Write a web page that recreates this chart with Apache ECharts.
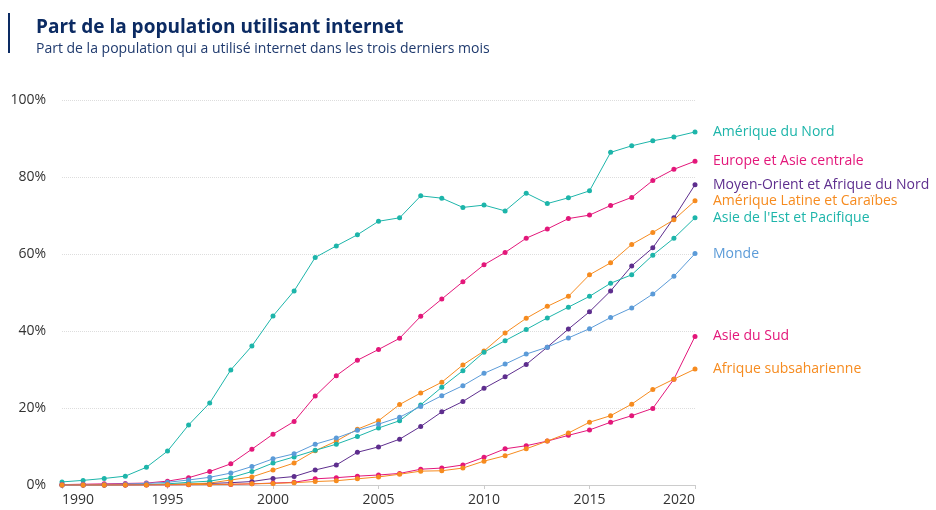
<!DOCTYPE html>
<html>
<head>
<meta charset="utf-8">
<script src="https://cdn.jsdelivr.net/npm/echarts@6/dist/echarts.min.js"></script>
<style>
  html, body { margin: 0; padding: 0; background: #fff; }
  #chart { width: 936px; height: 510px; }
</style>
</head>
<body>
<div id="chart"></div>
<script>
// années 1990 -> 2020
var annees = [1990, 1991, 1992, 1993, 1994, 1995, 1996, 1997, 1998, 1999,
  2000, 2001, 2002, 2003, 2004, 2005, 2006, 2007, 2008, 2009,
  2010, 2011, 2012, 2013, 2014, 2015, 2016, 2017, 2018, 2019, 2020]

// part de la population (%)
var ameriqueNord = [0.8, 1.2, 1.7, 2.3, 4.6, 8.8, 15.6, 21.3, 29.9, 36.1, 43.9, 50.4, 59.1, 62.1, 65.0, 68.5, 69.4, 75.1, 74.5, 72.1, 72.7, 71.2, 75.8, 73.1, 74.6, 76.4, 86.4, 88.1, 89.4, 90.4, 91.7]
var europeAsieC = [0.1, 0.2, 0.3, 0.4, 0.5, 1.0, 1.9, 3.5, 5.5, 9.3, 13.2, 16.5, 23.1, 28.4, 32.4, 35.2, 38.1, 43.8, 48.3, 52.8, 57.2, 60.4, 64.1, 66.5, 69.2, 70.1, 72.6, 74.7, 79.1, 82.0, 84.1]
var moyenOrient = [0, 0, 0, 0, 0.05, 0.1, 0.2, 0.4, 0.6, 0.9, 1.7, 2.2, 3.9, 5.2, 8.5, 9.9, 11.9, 15.2, 19.0, 21.7, 25.1, 28.1, 31.3, 35.8, 40.5, 45.0, 50.4, 56.9, 61.6, 69.4, 78.0]
var ameriqueLatine = [0, 0, 0, 0.05, 0.1, 0.2, 0.3, 0.5, 1.3, 2.1, 3.9, 5.7, 8.9, 11.4, 14.5, 16.7, 20.9, 23.9, 26.7, 31.2, 34.8, 39.5, 43.3, 46.4, 49.0, 54.6, 57.7, 62.5, 65.6, 68.9, 73.8]
var asieEst = [0, 0, 0, 0.05, 0.1, 0.3, 0.7, 1.0, 1.9, 3.5, 5.7, 7.3, 9.0, 10.6, 12.6, 14.8, 16.7, 20.8, 25.4, 29.7, 34.5, 37.5, 40.4, 43.4, 46.2, 49.0, 52.4, 54.6, 59.7, 64.1, 69.4]
var monde = [0.05, 0.1, 0.15, 0.25, 0.4, 0.7, 1.3, 2.0, 3.1, 4.8, 6.8, 8.1, 10.6, 12.2, 14.2, 15.8, 17.6, 20.4, 23.2, 25.8, 29.0, 31.4, 34.0, 35.8, 38.2, 40.6, 43.5, 46.0, 49.6, 54.2, 60.1]
var asieSud = [0, 0, 0, 0, 0, 0, 0.05, 0.1, 0.15, 0.3, 0.5, 0.7, 1.6, 1.9, 2.3, 2.6, 3.0, 4.1, 4.4, 5.2, 7.2, 9.4, 10.2, 11.4, 12.9, 14.3, 16.3, 18.0, 19.9, 27.5, 38.6]
var afriqueSub = [0, 0, 0, 0, 0, 0.05, 0.1, 0.15, 0.2, 0.3, 0.4, 0.6, 0.9, 1.1, 1.6, 2.1, 2.8, 3.6, 3.7, 4.4, 6.2, 7.6, 9.4, 11.4, 13.5, 16.3, 18.0, 21.0, 24.8, 27.5, 30.1]

var police = 'Open Sans'

function serie (nom, valeurs, couleur) {
  return {
    name: nom,
    type: 'line',
    data: annees.map(function (a, i) { return [a, valeurs[i]] }),
    symbol: 'circle',
    symbolSize: 5,
    showSymbol: true,
    lineStyle: { width: 1, color: couleur },
    itemStyle: { color: couleur },
    emphasis: { disabled: true },
    endLabel: {
      show: true,
      formatter: '{a}',
      distance: 18,
      color: couleur,
      fontFamily: police,
      fontSize: 14
    }
  }
}

var chart = echarts.init(document.getElementById('chart'))
var option = {
  animation: false,
  title: {
    text: 'Part de la population utilisant internet',
    subtext: 'Part de la population qui a utilisé internet dans les trois derniers mois',
    left: 31,
    top: 13,
    itemGap: 5,
    textStyle: { fontFamily: police, fontSize: 19, fontWeight: 'bold', color: '#0c2b63' },
    subtextStyle: { fontFamily: police, fontSize: 14, color: '#1f3a6e' }
  },
  graphic: [{
    type: 'rect',
    shape: { x: 8, y: 13, width: 2, height: 40 },
    style: { fill: '#0c2b63' }
  }],
  grid: { left: 62, right: 241, top: 100, bottom: 25 },
  xAxis: {
    type: 'value',
    min: 1990,
    max: 2020,
    interval: 5,
    axisLine: { show: true, lineStyle: { color: '#cccccc' } },
    axisTick: { show: true, length: 4, lineStyle: { color: '#cccccc' } },
    splitLine: { show: false },
    axisLabel: {
      formatter: function (v) { return String(v) },
      color: '#333333',
      fontFamily: police,
      fontSize: 14,
      margin: 8,
      alignMinLabel: 'left',
      alignMaxLabel: 'right'
    }
  },
  yAxis: {
    type: 'value',
    min: 0,
    max: 100,
    interval: 20,
    axisLine: { show: false },
    axisTick: { show: false },
    splitLine: { show: true, lineStyle: { color: '#dddddd', type: 'dotted' } },
    axisLabel: {
      formatter: '{value}%',
      color: '#333333',
      fontFamily: police,
      fontSize: 14,
      margin: 16
    }
  },
  series: [
    serie('Amérique du Nord', ameriqueNord, '#1db5aa'),
    serie('Europe et Asie centrale', europeAsieC, '#e3177a'),
    serie('Moyen-Orient et Afrique du Nord', moyenOrient, '#5e2e8e'),
    serie('Amérique Latine et Caraïbes', ameriqueLatine, '#f68b1f'),
    serie('Asie de l\'Est et Pacifique', asieEst, '#1db5aa'),
    serie('Monde', monde, '#5b9bd8'),
    serie('Asie du Sud', asieSud, '#e3177a'),
    serie('Afrique subsaharienne', afriqueSub, '#f68b1f')
  ]
}
chart.setOption(option)
</script>
</body>
</html>
